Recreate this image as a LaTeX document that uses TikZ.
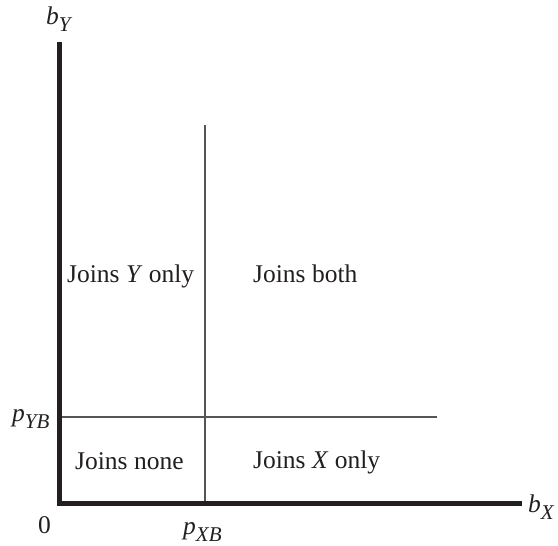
\documentclass[tikz,border=0pt]{standalone}
\usepackage{fontspec}
\setmainfont{Liberation Serif}
\definecolor{axiscol}{HTML}{231F20}
\definecolor{gridcol}{HTML}{555555}
\newcommand\lbl[2]{\textit{#1}\raisebox{-0.28em}{\fontsize{21}{22}\selectfont\textit{#2}}}
\begin{document}
\begin{tikzpicture}[x=1pt,y=-1pt,
  axisline/.style={draw=axiscol,line width=5pt,line join=miter},
  divline/.style={draw=gridcol,line width=1.8pt},
  txt/.style={anchor=base west,inner sep=0pt,font=\fontsize{25.5}{30}\selectfont,text=axiscol}]
\useasboundingbox (0,0) rectangle (558,546);
\coordinate (top) at (59.5,42);
\coordinate (O) at (59.5,503.5);
\coordinate (right) at (522,503.5);
\coordinate (vtop) at (205,125);
\coordinate (vbot) at (205,503.5);
\coordinate (hl) at (59.5,417);
\coordinate (hr) at (437,417);
\draw[divline] (vtop) -- (vbot);
\draw[divline] (hl) -- (hr);
\draw[axisline] (top) -- (O) -- (right);
\node[txt] (by) at (46,24) {\lbl{b}{Y}};
\node[txt] (bx) at (528,512) {\lbl{b}{X}};
\node[txt] (pyb) at (12,421) {\lbl{p}{YB}};
\node[txt] (pxb) at (183,534) {\lbl{p}{XB}};
\node[txt] (zero) at (38,533) {0};
\node[txt] (jn) at (75,469) {Joins none};
\node[txt] (jx) at (253,468) {Joins \textit{X} only};
\node[txt] (jy) at (67,282) {Joins \textit{Y} only};
\node[txt] (jb) at (253,282) {Joins both};
\end{tikzpicture}
\end{document}
